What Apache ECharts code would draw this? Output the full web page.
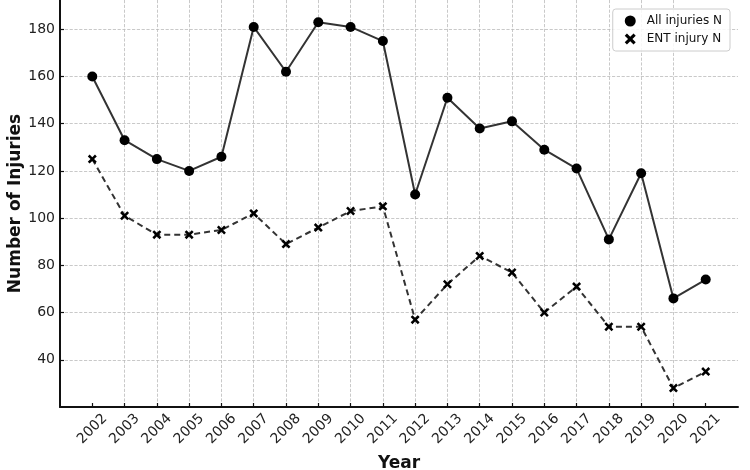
<!DOCTYPE html>
<html>
<head>
<meta charset="utf-8">
<script src="https://cdn.jsdelivr.net/npm/echarts@6/dist/echarts.min.js"></script>
<style>
  html, body { margin: 0; padding: 0; background: #fff; }
  #chart { width: 750px; height: 470px; }
</style>
</head>
<body>
<div id="chart"></div>
<script>
// years on the x axis
const years = [2002, 2003, 2004, 2005, 2006, 2007, 2008, 2009, 2010, 2011,
               2012, 2013, 2014, 2015, 2016, 2017, 2018, 2019, 2020, 2021];
// all injuries per year
const allInjuries = [160, 133, 125, 120, 126, 181, 162, 183, 181, 175,
                     110, 151, 138, 141, 129, 121, 91, 119, 66, 74];
// ENT injuries per year
const entInjuries = [125, 101, 93, 93, 95, 102, 89, 96, 103, 105,
                     57, 72, 84, 77, 60, 71, 54, 54, 28, 35];

const font = 'DejaVu Sans';
const xMark = 'path://M2,0 L5,3 L8,0 L10,2 L7,5 L10,8 L8,10 L5,7 L2,10 L0,8 L3,5 L0,2 Z';

let myChart = echarts.init(document.getElementById('chart'));
let option = {
  animation: false,
  textStyle: { fontFamily: font },
  grid: {
    left: 60,
    right: 12,
    top: 0,
    bottom: 63,
    outerBoundsMode: 'none'
  },
  legend: {
    right: 20,
    top: 9,
    orient: 'vertical',
    itemWidth: 11,
    itemHeight: 12,
    itemGap: 6,
    padding: [6, 8, 6, 12],
    borderColor: '#cccccc',
    borderWidth: 1,
    borderRadius: 3,
    backgroundColor: 'rgba(255,255,255,0.85)',
    textStyle: { fontFamily: font, fontSize: 12, color: '#111', padding: [0, 0, 0, 6] },
    data: [
      { name: 'All injuries N', icon: 'circle' },
      { name: 'ENT injury N', icon: xMark }
    ]
  },
  xAxis: {
    type: 'value',
    min: 2001,
    max: 2022,
    interval: 1,
    name: 'Year',
    nameLocation: 'middle',
    nameGap: 48,
    nameMoveOverlap: false,
    nameTextStyle: { fontFamily: font, fontSize: 17, fontWeight: 'bold', color: '#111' },
    axisLine: { lineStyle: { color: '#111', width: 2 } },
    axisTick: { customValues: years, inside: true, length: 4, lineStyle: { color: '#111', width: 1.2 } },
    axisLabel: {
      customValues: years,
      formatter: v => String(v),
      rotate: 45,
      align: 'center',
      verticalAlign: 'middle',
      fontSize: 14,
      color: '#222',
      margin: 22
    },
    splitLine: {
      showMinLine: false,
      showMaxLine: false,
      lineStyle: { type: 'dashed', color: '#bbbbbb', width: 0.8 }
    }
  },
  yAxis: {
    type: 'value',
    min: 20,
    max: 192.4,
    interval: 20,
    name: 'Number of Injuries',
    nameLocation: 'middle',
    nameGap: 36,
    nameMoveOverlap: false,
    nameTextStyle: { fontFamily: font, fontSize: 17, fontWeight: 'bold', color: '#111' },
    axisLine: { show: true, lineStyle: { color: '#111', width: 2 } },
    axisTick: { show: true, inside: true, length: 4, lineStyle: { color: '#111', width: 1.2 } },
    axisLabel: {
      showMinLabel: false,
      showMaxLabel: false,
      fontSize: 14,
      color: '#222',
      margin: 5
    },
    splitLine: {
      showMinLine: false,
      showMaxLine: false,
      lineStyle: { type: 'dashed', color: '#bbbbbb', width: 0.8 }
    }
  },
  series: [{
    name: 'All injuries N',
    type: 'line',
    data: years.map((y, i) => [y, allInjuries[i]]),
    symbol: 'circle',
    symbolSize: 10,
    itemStyle: { color: '#000' },
    lineStyle: { color: '#333', width: 2 }
  }, {
    name: 'ENT injury N',
    type: 'line',
    data: years.map((y, i) => [y, entInjuries[i]]),
    symbol: xMark,
    symbolSize: 9,
    itemStyle: { color: '#000' },
    lineStyle: { color: '#333', width: 2, type: [6, 4] }
  }]
};
myChart.setOption(option, true);

window.addEventListener('resize', () => {
  myChart.resize();
});
</script>
</body>
</html>
